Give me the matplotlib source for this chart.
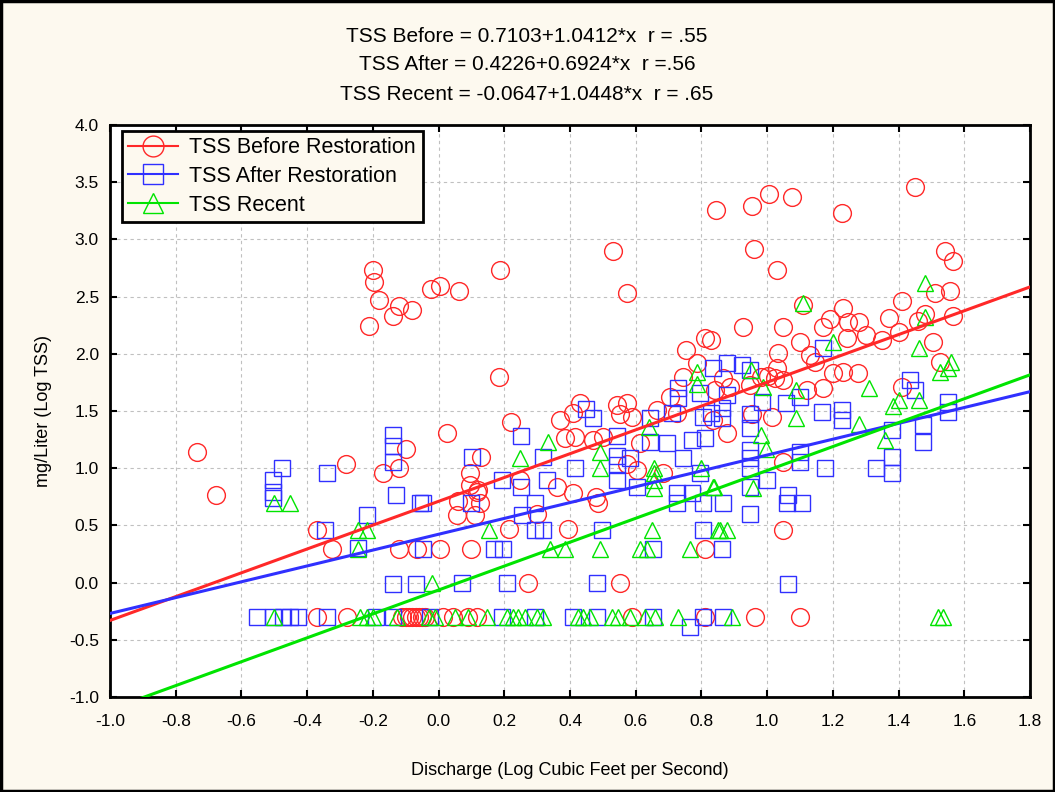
import matplotlib
matplotlib.use("Agg")
import matplotlib.pyplot as plt
import numpy as np
from matplotlib.lines import Line2D
from matplotlib.patches import Rectangle

plt.rcParams['font.family'] = ['Liberation Sans', 'DejaVu Sans']

# ---- data ----
before_x = [-0.735, -0.677, -0.282, -0.20, -0.197, -0.212, -0.18, -0.139, -0.12, -0.08,
            -0.023, 0.004, 0.062, 0.187, 0.184, 0.531, 0.573, 0.845, 0.954, 1.005,
            1.075, 1.228, 1.45, 0.96, 1.03, 1.54, 1.565, 1.556, 1.51, 1.41,
            1.23, 1.11, 1.48, 1.565, 1.37, 1.19, 1.245, 1.28, 1.46,
            -0.10, -0.17, -0.12, -0.37, -0.325, -0.12, -0.066,
            0.025, 0.096, 0.096, 0.12, 0.129, 0.06, 0.126, 0.117, 0.056, 0.11,
            0.22, 0.37, 0.41, 0.43, 0.385, 0.415, 0.47, 0.50, 0.543, 0.573,
            0.552, 0.59, 0.613, 0.603, 0.573, 0.665, 0.704, 0.744, 0.753, 0.81,
            0.83, 0.786, 0.36, 0.41, 0.48, 0.248, 0.683, 0.725, 0.835, 0.214,
            0.394, 0.30, 0.485, 0.272, 0.552, 0.004, 0.10, 0.81, 1.048,
            0.926, 1.048, 1.17, 1.10, 1.30, 1.243, 1.35, 1.40, 1.505, 1.525,
            1.033, 1.13, 1.145, 1.03, 1.003, 1.024, 1.20, 1.23, 1.277, 1.17,
            1.12, 1.048, 0.98, 0.948, 0.865, 0.887, 0.84, 1.41, 0.954, 1.015,
            0.877, 1.048,
            -0.37, -0.28, -0.11, -0.10, -0.09, -0.08, -0.07, -0.06, -0.05, -0.04,
            0.013, 0.044, 0.09, 0.117, 0.59, 0.81, 0.963, 1.10]
before_y = [1.14, 0.77, 1.04, 2.73, 2.63, 2.24, 2.47, 2.33, 2.42, 2.38,
            2.57, 2.59, 2.55, 2.73, 1.80, 2.90, 2.53, 3.26, 3.29, 3.40,
            3.37, 3.23, 3.46, 2.92, 2.73, 2.90, 2.81, 2.55, 2.53, 2.46,
            2.40, 2.43, 2.35, 2.33, 2.31, 2.30, 2.28, 2.28, 2.29,
            1.17, 0.96, 1.00, 0.46, 0.29, 0.29, 0.29,
            1.31, 0.96, 0.85, 0.81, 1.10, 0.71, 0.70, 0.79, 0.59, 0.59,
            1.40, 1.42, 1.48, 1.57, 1.26, 1.27, 1.25, 1.27, 1.55, 1.57,
            1.47, 1.45, 1.22, 0.98, 1.04, 1.51, 1.62, 1.80, 2.03, 2.14,
            2.12, 1.92, 0.84, 0.78, 0.75, 0.90, 0.96, 1.48, 1.42, 0.47,
            0.47, 0.60, 0.70, 0.0, 0.0, 0.29, 0.29, 0.29, 0.46,
            2.23, 2.23, 2.23, 2.10, 2.16, 2.14, 2.12, 2.19, 2.10, 1.93,
            2.01, 1.99, 1.93, 1.88, 1.81, 1.79, 1.83, 1.84, 1.83, 1.70,
            1.68, 1.77, 1.80, 1.73, 1.79, 1.71, 1.68, 1.71, 1.47, 1.45,
            1.31, 1.05,
            -0.3, -0.3, -0.3, -0.3, -0.3, -0.3, -0.3, -0.3, -0.3, -0.3,
            -0.3, -0.3, -0.3, -0.3, -0.3, -0.3, -0.3, -0.3]

after_x = [-0.504, -0.504, -0.504, -0.477, -0.34, -0.139, -0.139, -0.139, -0.13, -0.057,
           -0.218, -0.346, -0.245, -0.139, -0.07,
           -0.553, -0.504, -0.474, -0.452, -0.428, -0.34, -0.19, -0.139, -0.026, 0.193,
           0.293, 0.41, 0.482, 0.652, 0.765, 0.805, 0.865,
           0.071, 0.208, 0.482, 1.063,
           -0.048, 0.17, 0.196, 0.652, 0.862,
           0.293, 0.318, 0.497, 0.805,
           0.254, 0.948,
           -0.048, 0.10, 0.293, 0.725, 0.805, 0.865, 1.06, 1.106,
           0.45, 0.47, 0.25, 0.102, 0.318, 0.415, 0.543, 0.543, 0.543, 0.543,
           0.582, 0.193, 0.25, 0.33, 0.643, 0.643, 0.695, 0.71, 0.728, 0.728,
           0.77, 0.744, 0.805, 0.81, 0.795, 0.835, 0.603, 0.725, 0.77, 0.795,
           1.17, 0.877, 0.923, 0.948, 0.877, 0.984, 1.057, 1.10, 1.167, 1.228,
           1.228, 1.435, 1.45, 1.55, 1.55, 0.862, 0.862, 0.948, 0.948, 1.38,
           1.474, 1.474, 0.948, 0.948, 0.948, 1.10, 1.10, 1.176, 1.33, 1.38,
           1.38, 1.0, 0.948, 1.063, 0.83]
after_y = [0.90, 0.79, 0.74, 1.00, 0.96, 1.29, 1.19, 1.05, 0.77, 0.70,
           0.59, 0.46, 0.30, -0.01, -0.01,
           -0.3, -0.3, -0.3, -0.3, -0.3, -0.3, -0.3, -0.3, -0.3, -0.3,
           -0.3, -0.3, -0.3, -0.3, -0.39, -0.3, -0.3,
           0.0, 0.0, 0.0, -0.01,
           0.29, 0.29, 0.29, 0.29, 0.29,
           0.46, 0.46, 0.46, 0.46,
           0.59, 0.60,
           0.70, 0.70, 0.70, 0.70, 0.70, 0.70, 0.70, 0.70,
           1.52, 1.44, 1.28, 1.10, 1.10, 1.00, 1.28, 1.11, 1.03, 0.90,
           1.09, 0.90, 0.84, 0.90, 1.44, 1.23, 1.22, 1.48, 1.70, 1.61,
           1.25, 1.09, 1.45, 1.26, 1.66, 1.88, 0.84, 0.78, 0.78, 0.96,
           2.05, 1.92, 1.90, 1.86, 1.64, 1.58, 1.57, 1.62, 1.49, 1.51,
           1.42, 1.77, 1.68, 1.58, 1.49, 1.53, 1.44, 1.47, 1.35, 1.33,
           1.38, 1.23, 1.16, 1.09, 1.00, 1.14, 1.05, 1.00, 1.00, 1.10,
           0.96, 0.90, 0.84, 0.77, 1.48]

recent_x = [-0.50, -0.452, -0.245, -0.218, -0.245,
            -0.50, -0.239, -0.218, -0.2, -0.127, -0.03, -0.01, 0.05, 0.09, 0.147,
            0.208, 0.226, 0.242, 0.263, 0.30, 0.318, 0.424, 0.44, 0.46, 0.528,
            0.546, 0.582, 0.628, 0.658, 0.728, 0.893, 1.52, 1.535,
            -0.02,
            0.34, 0.385, 0.49, 0.613, 0.634, 0.765,
            0.153, 0.649, 0.85, 0.856, 0.877,
            0.333, 0.248, 0.49, 0.49, 0.655, 0.655, 0.655, 0.655, 0.80, 0.835,
            0.64, 0.786, 0.786,
            1.48, 1.48, 1.11, 1.20, 1.462, 1.525, 1.55, 1.56, 0.951, 0.988,
            1.088, 1.31, 1.40, 1.383, 1.462, 1.088, 1.28, 0.981, 0.996, 1.36,
            0.957, 0.838]
recent_y = [0.70, 0.70, 0.46, 0.46, 0.29,
            -0.3, -0.3, -0.3, -0.3, -0.3, -0.3, -0.3, -0.3, -0.3, -0.3,
            -0.3, -0.3, -0.3, -0.3, -0.3, -0.3, -0.3, -0.3, -0.3, -0.3,
            -0.3, -0.3, -0.3, -0.3, -0.3, -0.3, -0.3, -0.3,
            0.0,
            0.29, 0.29, 0.29, 0.29, 0.29, 0.29,
            0.46, 0.46, 0.46, 0.46, 0.46,
            1.23, 1.09, 1.14, 1.00, 1.00, 0.96, 0.90, 0.83, 1.00, 0.84,
            1.36, 1.84, 1.74,
            2.62, 2.32, 2.44, 2.10, 2.05, 1.84, 1.88, 1.93, 1.86, 1.71,
            1.68, 1.70, 1.60, 1.54, 1.60, 1.44, 1.39, 1.29, 1.17, 1.25,
            0.83, 0.84]

# regression fits (from the chart annotations)
fit_before = (0.7103, 1.0412)
fit_after = (0.4226, 0.6924)
fit_recent = (-0.0647, 1.0448)

labels = ["TSS Before Restoration", "TSS After Restoration", "TSS Recent"]
title_lines = ["TSS Before = 0.7103+1.0412*x  r = .55",
               "TSS After = 0.4226+0.6924*x  r =.56",
               "TSS Recent = -0.0647+1.0448*x  r = .65"]
xticks = [-1.0, -0.8, -0.6, -0.4, -0.2, 0.0, 0.2, 0.4, 0.6, 0.8, 1.0, 1.2, 1.4, 1.6, 1.8]
xtick_labels = ["-1.0", "-0.8", "-0.6", "-0.4", "-0.2", "0.0", "0.2", "0.4", "0.6",
                "0.8", "1.0", "1.2", "1.4", "1.6", "1.8"]
yticks = [-1.0, -0.5, 0.0, 0.5, 1.0, 1.5, 2.0, 2.5, 3.0, 3.5, 4.0]
ytick_labels = ["-1.0", "-0.5", "0.0", "0.5", "1.0", "1.5", "2.0", "2.5", "3.0", "3.5", "4.0"]

# ---- styling ----
c_red = '#ff2828'
c_blue = '#3030ff'
c_green = '#00e400'
bg = '#fdf9ef'

fig = plt.figure(figsize=(10.55, 7.92), dpi=100, facecolor=bg)
ax = fig.add_axes([110/1055, 95/792, 920/1055, 572/792])
ax.set_facecolor('white')

ms = 12.8
ax.plot(before_x, before_y, 'o', ls='none', mfc='none', mec=c_red, mew=1.0, ms=ms, zorder=3)
ax.plot(after_x, after_y, 's', ls='none', mfc='none', mec=c_blue, mew=1.0, ms=ms-1.2, zorder=3)
ax.plot(recent_x, recent_y, '^', ls='none', mfc='none', mec=c_green, mew=1.0, ms=ms-1.8, zorder=3)

xl = np.array([-1.0, 1.8])
for (a, b), c in zip([fit_before, fit_after, fit_recent], [c_red, c_blue, c_green]):
    ax.plot(xl, a + b * xl, color=c, lw=2.2, zorder=4)

ax.set_xlim(-1.0, 1.8)
ax.set_ylim(-1.0, 4.0)
ax.set_xticks(xticks)
ax.set_yticks(yticks)
ax.set_xticklabels(xtick_labels, fontsize=12.5)
ax.set_yticklabels(ytick_labels, fontsize=12.5)
ax.tick_params(axis='x', direction='in', length=5, width=1.5, top=True, pad=12)
ax.tick_params(axis='y', direction='in', length=5, width=1.5, right=True, pad=8)
ax.grid(True, ls=(0, (3, 3)), color='#c0c0c0', lw=0.8)
for s in ax.spines.values():
    s.set_linewidth(2)

ax.set_xlabel("Discharge (Log Cubic Feet per Second)", fontsize=13, labelpad=24)
ax.set_ylabel("mg/Liter (Log TSS)", fontsize=13, labelpad=12)

handles = [Line2D([], [], color=c_red, marker='o', mfc='none', mec=c_red, ms=15, lw=1.5),
           Line2D([], [], color=c_blue, marker='s', mfc='none', mec=c_blue, ms=14, lw=1.5),
           Line2D([], [], color=c_green, marker='^', mfc='none', mec=c_green, ms=14, lw=1.5)]
leg = ax.legend(handles, labels, loc='upper left', bbox_to_anchor=(0.008, 0.997),
                fontsize=15.5, frameon=True, fancybox=False, edgecolor='black',
                facecolor=bg, framealpha=1, handlelength=2.3, borderpad=0.3,
                labelspacing=0.35, handletextpad=0.55, borderaxespad=0.2)
leg.get_frame().set_linewidth(2)

for i, t in enumerate(title_lines):
    fig.text(527/1055, 1 - (36 + 29 * i) / 792, t, ha='center', va='center', fontsize=15)

fig.patches.append(Rectangle((0.001, 0.001), 0.998, 0.998, transform=fig.transFigure,
                             fill=False, edgecolor='black', lw=2.5))

fig.savefig('out.png', dpi=100, facecolor=bg)
